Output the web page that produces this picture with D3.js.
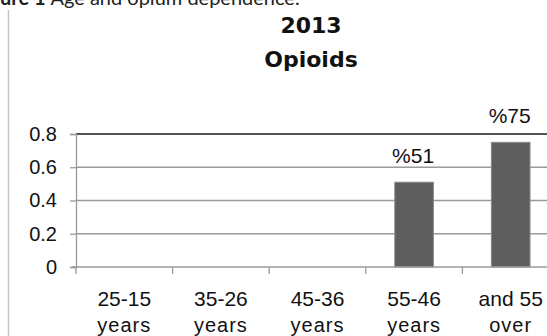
<!DOCTYPE html>
<html>
<head>
<meta charset="utf-8">
<script src="https://cdn.jsdelivr.net/npm/d3@7"></script>
<style>
  body { margin: 0; background: #fff; }
  svg { display: block; }
  .tick-label { font-family: "Liberation Sans", Arial, sans-serif; fill: #111; }
</style>
</head>
<body>
<svg></svg>
<script>
// chart values
const categories = ['25-15', '35-26', '45-36', '55-46', 'and 55']
const subLabels = ['years', 'years', 'years', 'years', 'over']
const values = [0, 0, 0, 0.51, 0.75]
const valueLabels = ['', '', '', '%51', '%75']
const yTicks = [0, 0.2, 0.4, 0.6, 0.8]
const titleLines = ['2013', 'Opioids']

const W = 547, H = 336
const plot = {left: 76, top: 134, bottom: 267, right: 559}

const svg = d3.select('svg').attr('width', W).attr('height', H)

// caption, cut off at top in the original
const cap = svg.append('text')
  .attr('y', 5)
  .style('font-family', 'Lato, "Open Sans", sans-serif')
  .style('font-size', '20px')
  .attr('fill', '#222')
cap.append('tspan').attr('font-weight', 'bold').text('Figure 1 ')
cap.append('tspan').text('Age and opium dependence.')
const figW = cap.node().getSubStringLength(0, 3)
cap.attr('x', -figW)

// left rule
svg.append('line')
  .attr('x1', 8.5).attr('x2', 8.5)
  .attr('y1', 10).attr('y2', H)
  .attr('stroke', '#c4c4c4').attr('stroke-width', 1.5)

// title
svg.selectAll('text.title')
  .data(titleLines).enter()
  .append('text')
  .attr('class', 'title')
  .attr('x', 311)
  .attr('y', (d, i) => 33 + i * 34)
  .attr('text-anchor', 'middle')
  .style('font-family', '"DejaVu Sans", sans-serif')
  .style('font-weight', 'bold')
  .style('font-size', '22px')
  .attr('fill', '#111')
  .text(d => d)

const xCat = d3.scaleBand().domain(categories).range([plot.left, plot.right]).padding(0)
const xBar = d3.scaleBand().domain(categories).range([plot.left, plot.right])
  .paddingInner(0.6).paddingOuter(0.3)
const y = d3.scaleLinear().domain([0, 0.8]).range([plot.bottom, plot.top])

// gridlines
svg.append('g')
  .selectAll('line')
  .data(yTicks.filter(d => d > 0)).enter()
  .append('line')
  .attr('x1', plot.left).attr('x2', W)
  .attr('y1', d => y(d)).attr('y2', d => y(d))
  .attr('stroke', d => d === 0.8 ? '#1a1a1a' : '#9a9a9a')
  .attr('stroke-width', d => d === 0.8 ? 1.6 : 1.3)

// y axis
const yAxis = svg.append('g')
  .attr('transform', `translate(${plot.left},0)`)
  .call(d3.axisLeft(y).tickValues(yTicks).tickSize(6).tickPadding(13)
    .tickFormat(d => d === 0 ? '0' : d3.format('.1f')(d)))
yAxis.select('.domain').attr('stroke', '#9a9a9a').attr('stroke-width', 1.3)
yAxis.selectAll('.tick line').attr('stroke', '#9a9a9a').attr('stroke-width', 1.3)
yAxis.selectAll('.tick text')
  .attr('class', 'tick-label')
  .style('font-size', '20px')

// bars
svg.append('g')
  .selectAll('rect')
  .data(values).enter()
  .filter(d => d > 0)
  .append('rect')
  .attr('x', (d, i) => xBar(categories[values.indexOf(d)]))
  .attr('width', xBar.bandwidth())
  .attr('y', d => y(d))
  .attr('height', d => y(0) - y(d))
  .attr('fill', '#5e5e5e')
  .attr('stroke', '#8a8a8a')
  .attr('stroke-width', 1)

// value labels
svg.append('g')
  .selectAll('text')
  .data(values).enter()
  .filter((d, i) => valueLabels[i])
  .append('text')
  .attr('class', 'tick-label')
  .attr('x', d => xBar(categories[values.indexOf(d)]) + xBar.bandwidth() / 2 - 1)
  .attr('y', d => y(d) - 19)
  .attr('text-anchor', 'middle')
  .style('font-size', '21px')
  .text(d => valueLabels[values.indexOf(d)])

// x axis
svg.append('line')
  .attr('x1', plot.left - 4).attr('x2', W)
  .attr('y1', plot.bottom).attr('y2', plot.bottom)
  .attr('stroke', '#9a9a9a').attr('stroke-width', 1.3)
svg.append('g')
  .selectAll('line')
  .data(categories).enter()
  .append('line')
  .attr('x1', d => xCat(d)).attr('x2', d => xCat(d))
  .attr('y1', plot.bottom).attr('y2', plot.bottom + 7)
  .attr('stroke', '#9a9a9a').attr('stroke-width', 1.3)

const xl = svg.append('g')
  .selectAll('g')
  .data(categories).enter()
  .append('g')
  .attr('transform', d => `translate(${xCat(d) + xCat.bandwidth() / 2},0)`)
xl.append('text')
  .attr('class', 'tick-label')
  .attr('y', 306)
  .attr('text-anchor', 'middle')
  .style('font-size', '21px')
  .text(d => d)
xl.append('text')
  .attr('class', 'tick-label')
  .attr('y', 332)
  .attr('text-anchor', 'middle')
  .style('font-size', '20px')
  .style('letter-spacing', '1px')
  .attr('fill', '#444')
  .text((d, i) => subLabels[i])
</script>
</body>
</html>
